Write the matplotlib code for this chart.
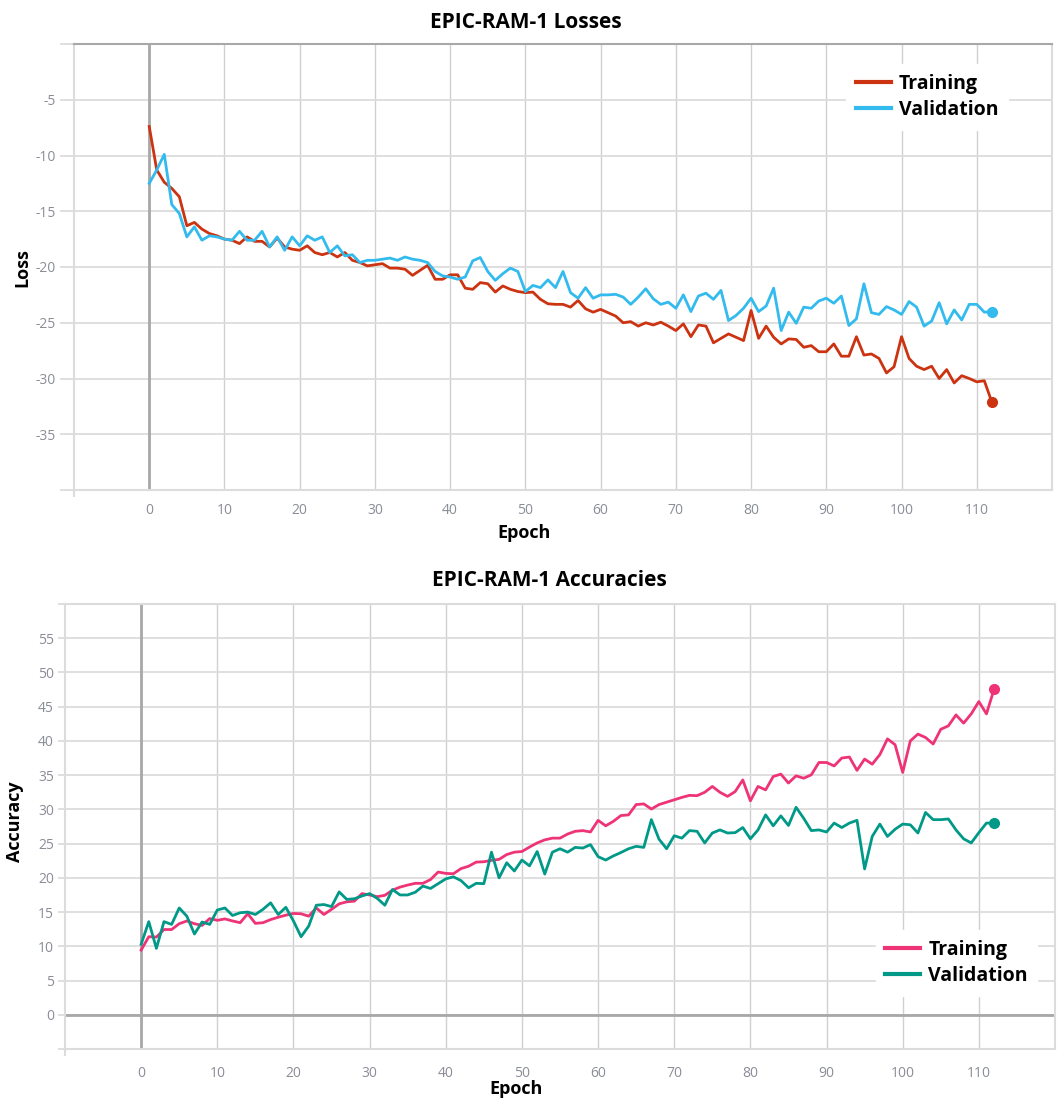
import numpy as np
import matplotlib
matplotlib.use("Agg")
import matplotlib.pyplot as plt

plt.rcParams['font.family'] = ['Open Sans', 'DejaVu Sans']
plt.rcParams['axes.unicode_minus'] = False

epochs = list(range(113))

loss_train = [-7.4, -11.3, -12.4, -12.95, -13.7, -16.3, -16.0, -16.6, -17.0, -17.2,
              -17.5, -17.6, -17.9, -17.3, -17.7, -17.7, -18.2, -17.4, -18.2, -18.4,
              -18.5, -18.1, -18.7, -18.9, -18.7, -19.1, -18.7, -19.4, -19.6, -19.9,
              -19.8, -19.7, -20.1, -20.1, -20.2, -20.75, -20.3, -19.85, -21.1, -21.1,
              -20.7, -20.7, -21.9, -22.0, -21.4, -21.5, -22.25, -21.7, -22.0, -22.2,
              -22.3, -22.25, -22.9, -23.3, -23.35, -23.35, -23.6, -23.0, -23.75, -24.05,
              -23.8, -24.1, -24.4, -25.0, -24.9, -25.3, -25.0, -25.2, -24.95, -25.3,
              -25.7, -25.1, -26.25, -25.2, -25.3, -26.8, -26.4, -26.0, -26.3, -26.6,
              -23.9, -26.4, -25.3, -26.3, -26.9, -26.45, -26.5, -27.2, -27.05, -27.6,
              -27.6, -26.9, -28.0, -28.0, -26.25, -27.9, -27.8, -28.2, -29.5, -28.95,
              -26.25, -28.2, -28.9, -29.2, -28.9, -30.0, -29.2, -30.4, -29.75, -30.0,
              -30.3, -30.2, -32.1]

loss_val = [-12.5, -11.3, -9.9, -14.4, -15.2, -17.3, -16.4, -17.6, -17.2, -17.3,
            -17.5, -17.6, -16.8, -17.6, -17.6, -16.8, -18.2, -17.3, -18.5, -17.3,
            -18.1, -17.2, -17.6, -17.3, -18.7, -18.1, -19.0, -18.9, -19.6, -19.4,
            -19.4, -19.3, -19.2, -19.4, -19.1, -19.3, -19.4, -19.6, -20.4, -20.8,
            -20.9, -21.1, -20.9, -19.45, -19.15, -20.4, -21.2, -20.6, -20.1, -20.4,
            -22.2, -21.65, -21.85, -21.15, -21.85, -20.4, -22.3, -22.8, -21.85, -22.8,
            -22.5, -22.5, -22.45, -22.7, -23.35, -22.7, -21.95, -22.85, -23.35, -23.15,
            -23.7, -22.5, -24.0, -22.6, -22.35, -22.9, -22.1, -24.8, -24.35, -23.7,
            -22.8, -24.0, -23.5, -21.9, -25.7, -24.05, -25.05, -23.6, -23.7, -23.05,
            -22.8, -23.25, -22.6, -25.25, -24.65, -21.5, -24.1, -24.25, -23.55, -23.85,
            -24.25, -23.1, -23.6, -25.3, -24.85, -23.2, -25.1, -23.85, -24.75, -23.35,
            -23.35, -24.05, -24.0]

acc_train = [9.45, 11.4, 11.35, 12.45, 12.45, 13.3, 13.7, 13.3, 13.05, 14.05,
             13.8, 14.0, 13.7, 13.45, 14.75, 13.35, 13.45, 13.9, 14.25, 14.55,
             14.8, 14.75, 14.4, 15.6, 14.65, 15.4, 16.2, 16.5, 16.6, 17.7,
             17.5, 17.25, 17.45, 18.2, 18.65, 18.95, 19.2, 19.2, 19.75, 20.85,
             20.65, 20.6, 21.35, 21.7, 22.3, 22.35, 22.55, 22.7, 23.4, 23.75,
             23.85, 24.5, 25.1, 25.55, 25.8, 25.8, 26.4, 26.8, 26.9, 26.7,
             28.4, 27.6, 28.25, 29.1, 29.2, 30.7, 30.8, 30.05, 30.7, 31.05,
             31.4, 31.75, 32.05, 32.0, 32.5, 33.35, 32.5, 31.9, 32.6, 34.3,
             31.25, 33.35, 32.85, 34.8, 35.15, 33.85, 34.9, 34.55, 35.05, 36.85,
             36.85, 36.35, 37.5, 37.65, 35.7, 37.35, 36.6, 38.0, 40.3, 39.45,
             35.4, 40.0, 41.0, 40.5, 39.55, 41.7, 42.2, 43.8, 42.6, 43.95,
             45.75, 43.95, 47.55]

acc_val = [10.3, 13.6, 9.7, 13.6, 13.2, 15.6, 14.4, 11.8, 13.55, 13.2,
           15.3, 15.6, 14.5, 14.9, 15.0, 14.65, 15.4, 16.35, 14.65, 15.7,
           13.7, 11.4, 12.95, 16.0, 16.1, 15.8, 17.95, 16.85, 16.95, 17.35,
           17.7, 17.0, 16.0, 18.3, 17.5, 17.5, 17.9, 18.8, 18.45, 19.15,
           19.85, 20.15, 19.6, 18.55, 19.2, 19.15, 23.75, 20.0, 22.2, 21.0,
           22.6, 21.75, 23.85, 20.55, 23.75, 24.25, 23.75, 24.45, 24.35, 24.85,
           23.1, 22.6, 23.2, 23.7, 24.25, 24.6, 24.45, 28.5, 25.65, 24.25,
           26.15, 25.8, 26.9, 26.8, 25.1, 26.55, 27.0, 26.55, 26.6, 27.35,
           25.7, 27.0, 29.2, 27.6, 29.05, 27.65, 30.3, 28.7, 26.9, 27.0,
           26.7, 28.0, 27.35, 28.0, 28.4, 21.3, 26.05, 27.85, 26.05, 27.1,
           27.85, 27.75, 26.55, 29.55, 28.5, 28.5, 28.6, 27.0, 25.7, 25.1,
           26.6, 28.0, 28.0]

x_ticks = list(range(0, 111, 10))
loss_ticks = list(range(-35, 0, 5))
acc_ticks = list(range(0, 56, 5))

grid_c = '#dcdcdc'
vgrid_c = '#d0d0d0'
zero_c = '#a8a8a8'
tick_c = '#8a8d96'

W, H = 1057, 1102
fig = plt.figure(figsize=(W / 100, H / 100), dpi=100)


def px_axes(l, t, r, b):
    return fig.add_axes([l / W, 1 - b / H, (r - l) / W, (b - t) / H])


def style(ax, ylim, yticks, ytick_len, xpad):
    ax.set_xlim(-10, 120)
    ax.set_ylim(*ylim)
    ax.set_xticks(x_ticks)
    ax.set_yticks(yticks)
    ax.set_yticks([ylim[0], ylim[1]], minor=True)
    ax.set_xticks([-10], minor=True)
    ax.grid(True, axis='y', which='both', color=grid_c, lw=1.3)
    ax.grid(True, axis='x', which='major', color=vgrid_c, lw=1.0)
    ax.axvline(0, color=zero_c, lw=2, zorder=1)
    for s in ax.spines.values():
        s.set_color(grid_c)
        s.set_linewidth(1.5)
    ax.tick_params(axis='y', which='both', length=ytick_len, width=1.3, color=grid_c,
                   labelcolor=tick_c, labelsize=10, pad=3)
    ax.tick_params(axis='x', which='major', length=0, labelcolor=tick_c, labelsize=10, pad=xpad)
    ax.tick_params(axis='x', which='minor', length=5, width=1.5, color=grid_c)
    ax.set_axisbelow(True)


def add_legend(ax, loc, anchor):
    leg = ax.legend(loc=loc, bbox_to_anchor=anchor, frameon=True, fancybox=False,
                    edgecolor='white', framealpha=1, handlelength=1.8,
                    handletextpad=0.4, borderpad=0.5, labelspacing=0.3,
                    prop={'weight': 'bold', 'size': 14})
    for l in leg.get_lines():
        l.set_linewidth(3)
    return leg


# losses
ax1 = px_axes(74, 44, 1052, 490)
style(ax1, (-40, 0), loss_ticks, 10, 9)
ax1.spines['top'].set_color(zero_c)
ax1.plot(epochs, loss_train, color='#cc3311', lw=2, label='Training', zorder=3)
ax1.plot(epochs, loss_val, color='#33bbee', lw=2, label='Validation', zorder=3)
ax1.plot(epochs[-1], loss_train[-1], 'o', color='#cc3311', ms=7, zorder=4)
ax1.plot(epochs[-1], loss_val[-1], 'o', color='#33bbee', ms=7, zorder=4)
add_legend(ax1, 'upper right', (0.965, 0.976))

# accuracies
ax2 = px_axes(65, 604, 1055, 1049)
style(ax2, (-5, 60), acc_ticks, 5, 12)
ax2.axhline(0, color=zero_c, lw=2, zorder=1)
ax2.plot(epochs, acc_train, color='#ee3377', lw=2, label='Training', zorder=3)
ax2.plot(epochs, acc_val, color='#009988', lw=2, label='Validation', zorder=3)
ax2.plot(epochs[-1], acc_train[-1], 'o', color='#ee3377', ms=7, zorder=4)
ax2.plot(epochs[-1], acc_val[-1], 'o', color='#009988', ms=7, zorder=4)
add_legend(ax2, 'lower right', (0.992, 0.098))

# titles and axis labels
fig.text(526 / W, 1 - 22 / H, 'EPIC-RAM-1 Losses', ha='center', va='center',
         fontsize=15, fontweight='bold')
fig.text(549 / W, 1 - 581 / H, 'EPIC-RAM-1 Accuracies', ha='center', va='center',
         fontsize=15, fontweight='bold')
fig.text(524 / W, 1 - 533 / H, 'Epoch', ha='center', va='center', fontsize=13, fontweight='bold')
fig.text(516 / W, 1 - 1089 / H, 'Epoch', ha='center', va='center', fontsize=13, fontweight='bold')
fig.text(22 / W, 1 - 268 / H, 'Loss', ha='center', va='center', rotation=90,
         fontsize=13, fontweight='bold')
fig.text(15 / W, 1 - 822 / H, 'Accuracy', ha='center', va='center', rotation=90,
         fontsize=13, fontweight='bold')

fig.savefig('out.png', dpi=100, facecolor='white')
